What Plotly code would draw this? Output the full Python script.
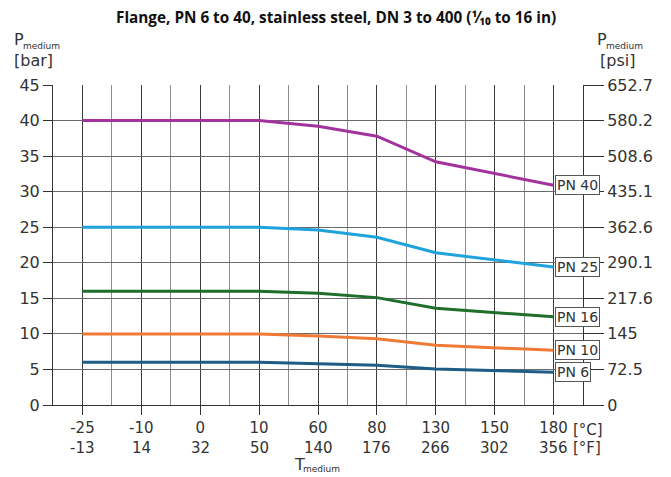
import plotly.graph_objects as go

temp_c = ["-25", "-10", "0", "10", "60", "80", "130", "150", "180"]
temp_f = ["-13", "14", "32", "50", "140", "176", "266", "302", "356"]

pn40 = [40, 40, 40, 40, 39.2, 37.8, 34.2, 32.6, 30.9]
pn25 = [25, 25, 25, 25, 24.6, 23.6, 21.4, 20.4, 19.4]
pn16 = [16, 16, 16, 16, 15.7, 15.1, 13.6, 13.0, 12.4]
pn10 = [10, 10, 10, 10, 9.7, 9.3, 8.4, 8.0, 7.7]
pn6 = [6, 6, 6, 6, 5.8, 5.6, 5.05, 4.85, 4.6]

series_names = ["PN 40", "PN 25", "PN 16", "PN 10", "PN 6"]
series_values = [pn40, pn25, pn16, pn10, pn6]
series_colors = ["#a2339c", "#1ea3dc", "#1f6e2b", "#ee7a36", "#1d5d86"]

bar_ticks = [0, 5, 10, 15, 20, 25, 30, 35, 40, 45]
psi_labels = ["0", "72.5", "145", "217.6", "290.1", "362.6", "435.1", "508.6", "580.2", "652.7"]

FONT = "DejaVu Sans"
TXT = "#333333"
TS = 15

x_idx = list(range(len(temp_c)))

fig = go.Figure()
for name, vals, col in zip(series_names, series_values, series_colors):
    fig.add_trace(go.Scatter(x=x_idx, y=vals, mode="lines", name=name,
                             line=dict(color=col, width=3), showlegend=False,
                             hoverinfo="skip"))
# invisible trace to activate the right axis
fig.add_trace(go.Scatter(x=[x_idx[0]], y=[0], yaxis="y2", mode="markers",
                         marker=dict(opacity=0), showlegend=False, hoverinfo="skip"))

annotations = []
for name, vals in zip(series_names, series_values):
    annotations.append(dict(x=x_idx[-1], y=vals[-1], xref="x", yref="y", text=name,
                            showarrow=False, xanchor="left", yanchor="middle", xshift=1,
                            font=dict(family=FONT, size=14, color=TXT),
                            bgcolor="white", bordercolor="#555555", borderwidth=1,
                            borderpad=1))

# Fahrenheit row under the Celsius tick labels
for i, f in zip(x_idx, temp_f):
    annotations.append(dict(x=i, y=0, xref="x", yref="paper", text=f, showarrow=False,
                            xanchor="center", yanchor="middle", yshift=-43,
                            font=dict(family=FONT, size=TS, color=TXT)))

def txt(text, x, y, xref, yref, xshift, yshift, size, anchor="left"):
    return dict(x=x, y=y, xref=xref, yref=yref, text=text, showarrow=False,
                xanchor=anchor, yanchor="middle", xshift=xshift, yshift=yshift,
                font=dict(family=FONT, size=size, color=TXT))

annotations += [
    txt("P", 0, 1, "paper", "paper", -41, 46, 16),
    txt("medium", 0, 1, "paper", "paper", -32, 39, 9),
    txt("[bar]", 0, 1, "paper", "paper", -41, 25, 16),
    txt("P", 1, 1, "paper", "paper", 12, 46, 16),
    txt("medium", 1, 1, "paper", "paper", 21, 39, 9),
    txt("[psi]", 1, 1, "paper", "paper", 15, 25, 16),
    txt("[°C]", x_idx[-1], 0, "x", "paper", 17, -25, TS),
    txt("[°F]", x_idx[-1], 0, "x", "paper", 17, -43, TS),
    txt("T", 4, 0, "x", "paper", -26, -59, 16),
    txt("medium", 4, 0, "x", "paper", -17, -64, 9),
]

fig.update_layout(
    width=671, height=477,
    margin=dict(l=45, r=96, t=77, b=80),
    paper_bgcolor="white", plot_bgcolor="white",
    title=dict(text="<b>Flange, PN 6 to 40, stainless steel, DN 3 to 400 (¹⁄₁₀ to 16 in)</b>",
               x=0.489, xref="container", xanchor="center", y=0.98, yanchor="middle",
               font=dict(family="Open Sans", size=15.3, color="#111111")),
    xaxis=dict(range=[-0.5, 8.5], tickmode="array", tickvals=x_idx,
               ticktext=temp_c,
               ticks="outside", ticklen=9, tickcolor="#333333",
               showgrid=True, gridcolor="#3c3c3c", gridwidth=1,
               minor=dict(dtick=0.5, tick0=0, showgrid=True, gridcolor="#8c8c8c", ticklen=0),
               showline=True, linecolor="#333333", linewidth=1,
               zeroline=False, tickfont=dict(family=FONT, size=TS, color=TXT)),
    yaxis=dict(range=[0, 45], tickmode="array", tickvals=bar_ticks,
               ticktext=[str(v) for v in bar_ticks],
               ticks="outside", ticklen=9, tickcolor="#333333",
               showgrid=True, gridcolor="#6a6a6a", gridwidth=1,
               showline=True, linecolor="#333333", linewidth=1,
               zeroline=False, tickfont=dict(family=FONT, size=16, color=TXT)),
    yaxis2=dict(range=[0, 45], overlaying="y", side="right", tickmode="array",
                tickvals=bar_ticks, ticktext=psi_labels,
                ticks="outside", ticklen=20, tickcolor="#333333",
                showgrid=False, showline=True, linecolor="#333333", linewidth=1,
                zeroline=False, tickfont=dict(family=FONT, size=16, color=TXT)),
    annotations=annotations,
)

fig.write_html("out.html")
